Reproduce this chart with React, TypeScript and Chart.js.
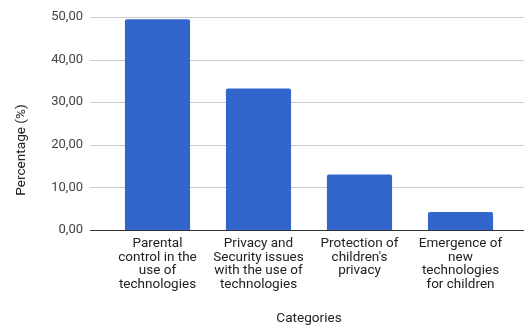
import React, { useEffect, useRef } from "react";
import { Chart, registerables } from "chart.js";

Chart.register(...registerables);

const categories: string[][] = [
  ["Parental", "control in the", "use of", "technologies"],
  ["Privacy and", "Security issues", "with the use of", "technologies"],
  ["Protection of", "children's", "privacy"],
  ["Emergence of", "new", "technologies", "for children"],
];
const values: number[] = [49.5, 33.2, 13.0, 4.2];
const yTicksMin = 0;
const yTicksMax = 50;
const yStep = 10;
const xTitle = "Categories";
const yTitle = "Percentage (%)";

const FONT = "Roboto, 'Noto Sans', sans-serif";

const gridPlugin = {
  id: "customGrid",
  beforeDatasetsDraw(chart: any) {
    const { ctx } = chart;
    const y = chart.scales.y;
    ctx.save();
    y.ticks.forEach((t: any) => {
      const py = Math.round(y.getPixelForValue(t.value)) + 0.5;
      ctx.beginPath();
      ctx.strokeStyle = t.value === 0 ? "#333333" : "#cccccc";
      ctx.lineWidth = 1;
      ctx.moveTo(90, py);
      ctx.lineTo(chart.width, py);
      ctx.stroke();
    });
    ctx.restore();
  },
  afterDatasetsDraw(chart: any) {
    const { ctx } = chart;
    const y = chart.scales.y;
    const py = Math.round(y.getPixelForValue(0)) + 0.5;
    ctx.save();
    ctx.beginPath();
    ctx.strokeStyle = "#333333";
    ctx.lineWidth = 1;
    ctx.moveTo(90, py);
    ctx.lineTo(chart.width, py);
    ctx.stroke();
    ctx.restore();
  },
  afterDraw(chart: any) {
    const { ctx, chartArea } = chart;
    ctx.save();
    ctx.fillStyle = "#222222";
    ctx.font = `13.6px ${FONT}`;
    ctx.textAlign = "center";
    ctx.textBaseline = "middle";
    ctx.fillText(xTitle, (chartArea.left + chartArea.right) / 2, 319);
    ctx.translate(22, 150);
    ctx.rotate(-Math.PI / 2);
    ctx.fillText(yTitle, 0, 0);
    ctx.restore();
  },
};

export default function App() {
  const ref = useRef<HTMLCanvasElement | null>(null);
  useEffect(() => {
    if (!ref.current) return;
    const chart = new Chart(ref.current, {
      type: "bar",
      data: {
        labels: categories,
        datasets: [
          {
            data: values,
            backgroundColor: "#3366cc",
            borderRadius: { topLeft: 2, topRight: 2, bottomLeft: 0, bottomRight: 0 },
            borderSkipped: "bottom",
            barPercentage: 0.645,
            categoryPercentage: 1,
          },
        ],
      },
      options: {
        responsive: false,
        animation: false,
        maintainAspectRatio: false,
        layout: { padding: { top: 17, right: 13, left: 0, bottom: 0 } },
        plugins: { legend: { display: false }, tooltip: { enabled: false } },
        scales: {
          x: {
            grid: { display: false, drawTicks: false },
            border: { display: false },
            ticks: {
              color: "#222222",
              font: { family: FONT, size: 13.5, lineHeight: "13.5px" },
              padding: 7,
              maxRotation: 0,
              autoSkip: false,
            },
            afterFit: (s: any) => {
              s.height = 98;
            },
          },
          y: {
            min: yTicksMin,
            max: yTicksMax,
            grid: { display: false, drawTicks: false },
            border: { display: false },
            ticks: {
              stepSize: yStep,
              color: "#444444",
              padding: 24,
              font: { family: FONT, size: 13 },
              callback: (v: any) => Number(v).toFixed(2).replace(".", ","),
            },
            afterFit: (s: any) => {
              s.width = 107;
              s.paddingTop = 0;
              s.paddingBottom = 0;
            },
          },
        },
      },
      plugins: [
        gridPlugin,
        {
          id: "fixArea",
          beforeLayout(chart: any) {
            chart.options.layout.padding.top = 17;
          },
          afterLayout(chart: any) {
            const y = chart.scales.y;
            if (chart.chartArea.top !== 17 && !chart.$fixed) {
              chart.$fixed = true;
              const diff = chart.chartArea.top - 17;
              chart.options.layout.padding.top = 17 - diff;
            }
          },
        },
      ],
    });
    chart.update();
    return () => chart.destroy();
  }, []);
  return (
    <div style={{ position: "fixed", left: 0, top: 0, width: 524, height: 328, background: "#fff" }}>
      <canvas ref={ref} width={524} height={328} style={{ display: "block" }} />
    </div>
  );
}
